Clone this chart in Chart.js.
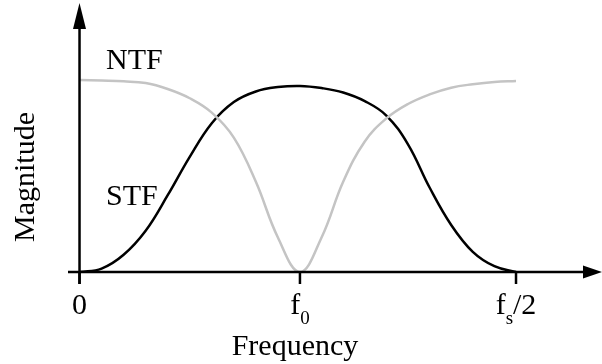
<!DOCTYPE html>
<html>
<head>
<meta charset="utf-8">
<script src="https://cdn.jsdelivr.net/npm/chart.js@4/dist/chart.umd.min.js"></script>
<style>
  html, body { margin: 0; padding: 0; background: #fff; }
  #wrap { width: 602px; height: 364px; }
</style>
</head>
<body>
<div id="wrap"><canvas id="c" width="602" height="364"></canvas></div>
<script>
// Frequency normalised so that fs/2 = 1 (f0 read at about 0.505)
const freq = [0, 0.0505, 0.101, 0.1515, 0.202, 0.2525, 0.303, 0.3535, 0.404, 0.4545, 0.505,
              0.5545, 0.604, 0.6535, 0.703, 0.7525, 0.802, 0.8515, 0.901, 0.9505, 1.0];
const stfMag = [0, 0.018, 0.09, 0.215, 0.40, 0.60, 0.775, 0.885, 0.94, 0.963, 0.969,
                0.958, 0.935, 0.89, 0.815, 0.665, 0.44, 0.245, 0.105, 0.03, 0];
const ntfMag = [1.0, 0.997, 0.993, 0.984, 0.953, 0.905, 0.83, 0.70, 0.47, 0.18, 0,
                0.18, 0.47, 0.68, 0.80, 0.875, 0.925, 0.96, 0.978, 0.99, 0.995];

const tickValues = [0, 0.505, 1];
const tickMain   = ['0', 'f', 'f'];
const tickSub    = ['', '0', 's'];
const tickSuffix = ['', '', '/2'];

const seriesLabels = ['NTF', 'STF'];
const xTitle = 'Frequency';
const yTitle = 'Magnitude';

const FONT = "'Liberation Serif', 'Times New Roman', serif";

const toPts = (xs, ys) => xs.map((x, i) => ({x: x, y: ys[i]}));

const axesPlugin = {
  id: 'axesPlugin',
  afterDatasetsDraw(chart) {
    const ctx = chart.ctx;
    const xs = chart.scales.x, ys = chart.scales.y;
    const area = chart.chartArea;
    const x0 = xs.getPixelForValue(0);
    const y0 = ys.getPixelForValue(0);
    ctx.save();
    ctx.strokeStyle = '#000';
    ctx.fillStyle = '#000';
    ctx.lineWidth = 2.5;
    ctx.lineCap = 'butt';
    // x axis
    ctx.beginPath();
    ctx.moveTo(area.left, y0);
    ctx.lineTo(area.right - 15, y0);
    ctx.stroke();
    ctx.beginPath();
    ctx.moveTo(area.right, y0);
    ctx.lineTo(area.right - 19, y0 - 6.5);
    ctx.lineTo(area.right - 19, y0 + 6.5);
    ctx.closePath();
    ctx.fill();
    // y axis
    ctx.beginPath();
    ctx.moveTo(x0, y0 + 12);
    ctx.lineTo(x0, area.top + 20);
    ctx.stroke();
    ctx.beginPath();
    ctx.moveTo(x0, area.top);
    ctx.lineTo(x0 - 6.5, area.top + 26);
    ctx.lineTo(x0 + 6.5, area.top + 26);
    ctx.closePath();
    ctx.fill();
    // ticks and labels
    tickValues.forEach((v, i) => {
      const px = xs.getPixelForValue(v);
      ctx.beginPath();
      ctx.moveTo(px, y0);
      ctx.lineTo(px, y0 + 12);
      ctx.stroke();
      ctx.font = '30px ' + FONT;
      const wMain = ctx.measureText(tickMain[i]).width;
      const wSuf = ctx.measureText(tickSuffix[i]).width;
      ctx.font = '19px ' + FONT;
      const wSub = ctx.measureText(tickSub[i]).width;
      const total = wMain + wSub + wSuf;
      let cx = px - total / 2;
      ctx.textAlign = 'left';
      ctx.textBaseline = 'alphabetic';
      ctx.font = '30px ' + FONT;
      ctx.fillText(tickMain[i], cx, 314);
      cx += wMain;
      ctx.font = '19px ' + FONT;
      ctx.fillText(tickSub[i], cx, 324);
      cx += wSub;
      ctx.font = '30px ' + FONT;
      ctx.fillText(tickSuffix[i], cx, 314);
    });
    // axis titles
    ctx.font = '30px ' + FONT;
    ctx.textAlign = 'center';
    ctx.fillText(xTitle, 295, 355);
    ctx.save();
    ctx.translate(34, 177);
    ctx.rotate(-Math.PI / 2);
    ctx.fillText(yTitle, 0, 0);
    ctx.restore();
    // series labels
    ctx.textAlign = 'left';
    ctx.fillText(seriesLabels[0], 106, 69);
    ctx.fillText(seriesLabels[1], 106, 205);
    ctx.restore();
  }
};

new Chart(document.getElementById('c'), {
  type: 'line',
  data: {
    datasets: [
      {
        label: seriesLabels[0],
        data: toPts(freq, ntfMag),
        borderColor: '#c4c4c4',
        borderWidth: 2.5,
        pointRadius: 0,
        tension: 0.4,
        fill: false
      },
      {
        label: seriesLabels[1],
        data: toPts(freq, stfMag),
        borderColor: '#000000',
        borderWidth: 2.5,
        pointRadius: 0,
        tension: 0.4,
        fill: false
      }
    ]
  },
  options: {
    responsive: false,
    animation: false,
    layout: { padding: { left: 68, right: 0, top: 3, bottom: 92 } },
    plugins: { legend: { display: false }, tooltip: { enabled: false } },
    scales: {
      x: { type: 'linear', display: false, min: -0.0264, max: 1.197 },
      y: { type: 'linear', display: false, min: 0, max: 1.401 }
    },
    clip: false
  },
  plugins: [axesPlugin]
});
</script>
</body>
</html>
